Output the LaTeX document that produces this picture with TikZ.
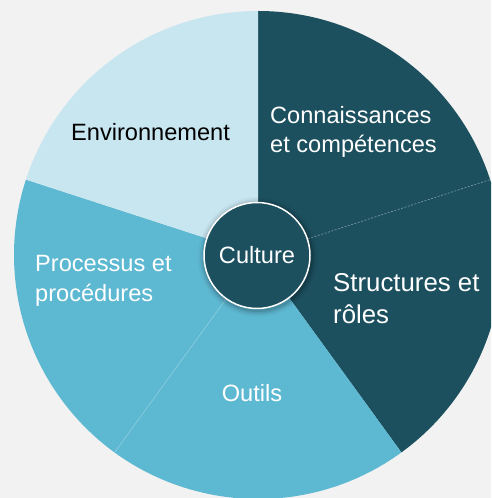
\documentclass[tikz,border=0pt]{standalone}
\usepackage{fontspec}
\setmainfont{Liberation Sans}
\definecolor{bgc}{RGB}{242,242,242}
\definecolor{darkt}{RGB}{28,80,95}
\definecolor{midt}{RGB}{93,184,210}
\definecolor{lightt}{RGB}{200,230,240}
\begin{document}
\begin{tikzpicture}[x=1pt,y=1pt,
  lbl/.style={inner sep=0pt,align=left,text=white},
  f24/.style={font=\fontsize{23.6}{29.5}\selectfont},
  f26/.style={font=\fontsize{25.8}{32}\selectfont}]
\fill[bgc] (0,0) rectangle (491,498);
\useasboundingbox (0,0) rectangle (491,498);
\begin{scope}
\clip (0,0) rectangle (491,498);
\coordinate (c) at (258,243);
\def\R{244}
\fill[darkt] (c) -- ++(90:\R) arc[start angle=90,end angle=-54,radius=\R] -- cycle;
\fill[midt] (c) -- ++(-54:\R) arc[start angle=-54,end angle=-198,radius=\R] -- cycle;
\fill[lightt] (c) -- ++(162:\R) arc[start angle=162,end angle=90,radius=\R] -- cycle;
\draw[color=white!45!darkt,line width=0.6pt,dash pattern=on 2pt off 1.5pt] (c) -- ++(18:\R);
\draw[color=white!35!midt,line width=0.5pt] (c) -- ++(234:\R);
\end{scope}
% shadow of centre circle
\foreach \r/\o in {60/0.03,58/0.05,56.5/0.07,55/0.09} {
  \fill[black,opacity=\o] (258,241) circle[radius=\r];
}
\node[circle,fill=darkt,draw=white,line width=1.5pt,minimum size=106pt,inner sep=0pt] (cul) at (257,242.5) {};
\node[lbl,f24] (culture) at (cul) {Culture};
\node[lbl,f24,anchor=west] (conn) at (270,366) {Connaissances\\et compétences};
\node[lbl,f26,anchor=west] (struct) at (333,199) {Structures et\\rôles};
\node[lbl,f24] (outils) at (252,105) {Outils};
\node[lbl,f24,anchor=west] (proc) at (35,217) {Processus et\\procédures};
\node[lbl,f24,anchor=west,text=black] (env) at (71,366) {Environnement};
\end{tikzpicture}
\end{document}
